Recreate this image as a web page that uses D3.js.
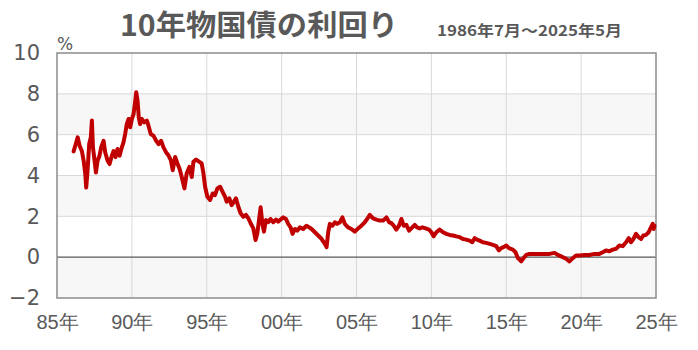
<!DOCTYPE html>
<html>
<head>
<meta charset="utf-8">
<script src="https://cdn.jsdelivr.net/npm/d3@7"></script>
<style>
  body { margin: 0; background: #fff; }
  text { fill: #595959; }
</style>
</head>
<body>
<div id="chart"></div>
<script>
// data (x in axis years, y in %)
const years = [
  1986.11, 1986.22, 1986.38, 1986.51, 1986.66, 1986.78, 1986.89, 1986.95, 1987.04, 1987.15,
  1987.26, 1987.33, 1987.40, 1987.51, 1987.60, 1987.71, 1987.84, 1987.95, 1988.11, 1988.22,
  1988.38, 1988.51, 1988.66, 1988.78, 1988.91, 1989.04, 1989.18, 1989.33, 1989.44, 1989.55,
  1989.66, 1989.78, 1989.89, 1990.00, 1990.11, 1990.20, 1990.29, 1990.38, 1990.46, 1990.55,
  1990.66, 1990.82, 1991.00, 1991.11, 1991.26, 1991.44, 1991.62, 1991.78, 1991.95, 1992.11,
  1992.29, 1992.44, 1992.60, 1992.73, 1992.89, 1993.04, 1993.18, 1993.33, 1993.51, 1993.66,
  1993.84, 1994.00, 1994.11, 1994.29, 1994.51, 1994.66, 1994.78, 1994.89, 1995.04, 1995.22,
  1995.40, 1995.55, 1995.71, 1995.89, 1996.06, 1996.22, 1996.33, 1996.51, 1996.66, 1996.82,
  1996.95, 1997.11, 1997.26, 1997.44, 1997.62, 1997.78, 1997.93, 1998.11, 1998.26, 1998.38,
  1998.49, 1998.60, 1998.71, 1998.82, 1998.95, 1999.11, 1999.26, 1999.44, 1999.62, 1999.78,
  1999.93, 2000.11, 2000.29, 2000.44, 2000.60, 2000.73, 2000.89, 2001.04, 2001.22, 2001.44,
  2001.66, 2001.84, 2002.00, 2002.22, 2002.44, 2002.66, 2002.89, 2003.00, 2003.11, 2003.22,
  2003.40, 2003.55, 2003.71, 2003.89, 2004.06, 2004.22, 2004.44, 2004.66, 2004.89, 2005.11,
  2005.33, 2005.55, 2005.71, 2005.89, 2006.11, 2006.33, 2006.55, 2006.78, 2007.00, 2007.18,
  2007.33, 2007.49, 2007.66, 2007.84, 2008.00, 2008.15, 2008.33, 2008.51, 2008.66, 2008.89,
  2009.04, 2009.22, 2009.40, 2009.62, 2009.84, 2010.00, 2010.15, 2010.33, 2010.55, 2010.78,
  2011.00, 2011.22, 2011.44, 2011.66, 2011.89, 2012.11, 2012.33, 2012.55, 2012.73, 2012.89,
  2013.04, 2013.22, 2013.44, 2013.66, 2013.89, 2014.11, 2014.33, 2014.51, 2014.66, 2014.82,
  2015.00, 2015.18, 2015.44, 2015.62, 2015.78, 2016.00, 2016.15, 2016.33, 2016.55, 2016.89,
  2017.22, 2017.55, 2017.89, 2018.22, 2018.44, 2018.78, 2019.00, 2019.22, 2019.44, 2019.66,
  2019.89, 2020.22, 2020.55, 2020.89, 2021.22, 2021.44, 2021.66, 2021.89, 2022.11, 2022.33,
  2022.55, 2022.78, 2023.00, 2023.18, 2023.33, 2023.49, 2023.66, 2023.84, 2024.00, 2024.15,
  2024.33, 2024.51, 2024.66, 2024.78, 2024.84, 2024.89
];
const yields = [
  5.18, 5.46, 5.87, 5.46, 5.20, 4.72, 4.07, 3.41, 4.23, 5.54,
  5.87, 6.69, 5.38, 4.72, 4.15, 4.72, 4.97, 5.38, 5.70, 5.13,
  4.72, 4.56, 4.97, 5.20, 4.90, 5.30, 4.97, 5.38, 5.62, 6.03,
  6.52, 6.77, 6.36, 6.77, 7.00, 7.50, 8.08, 7.67, 6.85, 6.52,
  6.77, 6.60, 6.69, 6.44, 6.03, 5.95, 5.70, 5.54, 5.70, 5.38,
  5.13, 4.99, 4.75, 4.26, 4.91, 4.59, 4.34, 3.93, 3.37, 4.10,
  4.42, 3.93, 4.67, 4.78, 4.67, 4.59, 4.10, 3.45, 2.96, 2.80,
  3.12, 3.04, 3.37, 3.45, 3.20, 2.96, 2.72, 2.88, 2.55, 2.72,
  2.88, 2.47, 2.15, 1.98, 2.07, 1.90, 1.66, 1.41, 0.84, 1.17,
  1.82, 2.44, 1.66, 1.25, 1.82, 1.71, 1.87, 1.71, 1.84, 1.74,
  1.84, 1.95, 1.87, 1.63, 1.46, 1.14, 1.38, 1.30, 1.46, 1.38,
  1.54, 1.46, 1.38, 1.22, 1.06, 0.90, 0.65, 0.49, 1.22, 1.63,
  1.54, 1.71, 1.63, 1.71, 1.95, 1.63, 1.46, 1.38, 1.25, 1.41,
  1.54, 1.71, 1.87, 2.07, 1.90, 1.84, 1.79, 1.79, 1.95, 1.71,
  1.67, 1.54, 1.35, 1.54, 1.87, 1.54, 1.58, 1.30, 1.41, 1.58,
  1.46, 1.41, 1.46, 1.41, 1.35, 1.22, 1.02, 1.22, 1.35, 1.22,
  1.14, 1.09, 1.06, 1.02, 0.98, 0.89, 0.86, 0.81, 0.73, 0.93,
  0.86, 0.81, 0.73, 0.70, 0.65, 0.60, 0.54, 0.33, 0.44, 0.49,
  0.57, 0.44, 0.37, 0.24, -0.05, -0.21, -0.05, 0.11, 0.16, 0.16,
  0.16, 0.16, 0.16, 0.21, 0.11, 0.00, -0.08, -0.21, -0.05, 0.08,
  0.08, 0.11, 0.11, 0.16, 0.16, 0.24, 0.33, 0.29, 0.37, 0.41,
  0.57, 0.54, 0.73, 0.93, 0.73, 0.89, 1.14, 0.98, 0.89, 1.06,
  1.09, 1.22, 1.46, 1.63, 1.38, 1.54
];
const xTicks = [1985, 1990, 1995, 2000, 2005, 2010, 2015, 2020, 2025];
const xTickLabels = ["85年", "90年", "95年", "00年", "05年", "10年", "15年", "20年", "25年"];
const yTicks = [-2, 0, 2, 4, 6, 8, 10];

const title = "10年物国債の利回り";
const subtitle = "1986年7月～2025年5月";

const W = 698, H = 350;
const margin = { top: 53, right: 42, bottom: 52, left: 57 };
const width = W - margin.left - margin.right,
  height = H - margin.top - margin.bottom;

const svg = d3.select("#chart").append("svg")
  .attr("width", W).attr("height", H)
  .style("font-family", "'DejaVu Sans', 'Noto Sans CJK JP', sans-serif");

const g = svg.append("g")
  .attr("transform", "translate(" + margin.left + "," + margin.top + ")");

const x = d3.scaleLinear().domain([1985, 2025]).range([0, width]);
const y = d3.scaleLinear().domain([-2, 10]).range([height, 0]);

// alternating bands
const bands = [[-2, 0], [2, 4], [6, 8]];
g.selectAll("rect.band").data(bands).enter().append("rect")
  .attr("class", "band")
  .attr("x", 0).attr("width", width)
  .attr("y", d => y(d[1]))
  .attr("height", d => y(d[0]) - y(d[1]))
  .attr("fill", "#f7f7f7");

// grid
g.selectAll("line.hgrid").data(yTicks.filter(d => d > -2 && d < 10 && d !== 0)).enter().append("line")
  .attr("x1", 0).attr("x2", width)
  .attr("y1", d => y(d)).attr("y2", d => y(d))
  .attr("stroke", "#d9d9d9").attr("stroke-width", 1);
g.selectAll("line.vgrid").data(xTicks.slice(1, -1)).enter().append("line")
  .attr("x1", d => x(d)).attr("x2", d => x(d))
  .attr("y1", 0).attr("y2", height)
  .attr("stroke", "#d9d9d9").attr("stroke-width", 1);

// zero line
g.append("line")
  .attr("x1", 0).attr("x2", width)
  .attr("y1", y(0)).attr("y2", y(0))
  .attr("stroke", "#595959").attr("stroke-width", 1.3);

// frame
g.append("rect")
  .attr("x", 0).attr("y", 0).attr("width", width).attr("height", height)
  .attr("fill", "none").attr("stroke", "#8c8c8c").attr("stroke-width", 1.5);

// series
const pts = years.map((d, i) => [d, yields[i]]);
const line = d3.line().x(d => x(d[0])).y(d => y(d[1]));
g.append("path")
  .datum(pts)
  .attr("d", line)
  .attr("fill", "none")
  .attr("stroke", "#c00000")
  .attr("stroke-width", 4)
  .attr("stroke-linejoin", "round")
  .attr("stroke-linecap", "round");

// axes (labels only)
const yAxis = g.append("g").call(d3.axisLeft(y).tickValues(yTicks).tickSize(0).tickPadding(17));
yAxis.select(".domain").remove();
yAxis.selectAll("text").attr("font-size", 21).attr("fill", "#595959")
  .style("font-family", "'DejaVu Sans', sans-serif");

const xAxis = g.append("g").attr("transform", "translate(0," + height + ")")
  .call(d3.axisBottom(x).tickValues(xTicks).tickSize(0).tickPadding(17)
    .tickFormat((d, i) => xTickLabels[i]));
xAxis.select(".domain").remove();
xAxis.selectAll("text").attr("font-size", 20).attr("fill", "#595959");

// unit
svg.append("text").attr("x", 57).attr("y", 50)
  .attr("font-size", 17).text("%");

// titles
svg.append("text").attr("x", 120).attr("y", 36)
  .attr("font-size", 29).attr("font-weight", "bold")
  .attr("textLength", 278).attr("lengthAdjust", "spacingAndGlyphs")
  .style("font-family", "'Noto Sans CJK JP', sans-serif")
  .text(title);
svg.append("text").attr("x", 437).attr("y", 36)
  .attr("font-size", 15).attr("font-weight", "bold")
  .attr("textLength", 185).attr("lengthAdjust", "spacingAndGlyphs")
  .style("font-family", "'Noto Sans CJK JP', sans-serif")
  .text(subtitle);
</script>
</body>
</html>
